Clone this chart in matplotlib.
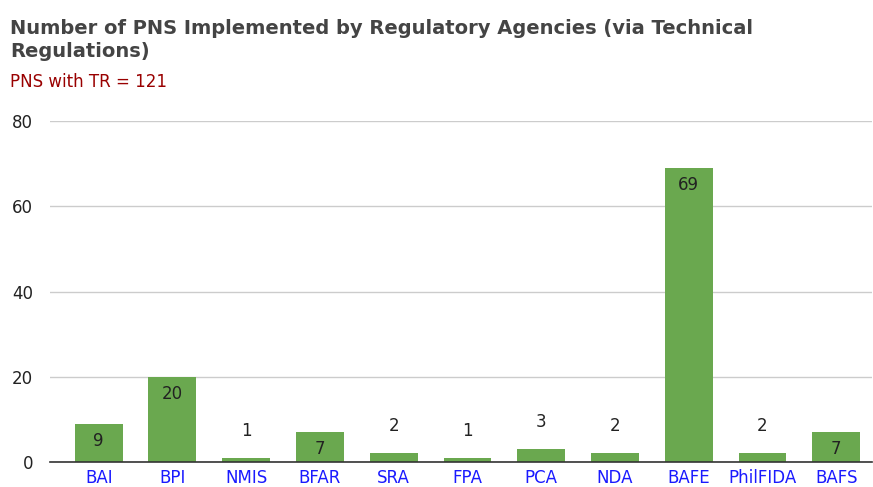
import matplotlib.pyplot as plt

agencies = ["BAI", "BPI", "NMIS", "BFAR", "SRA", "FPA", "PCA", "NDA", "BAFE", "PhilFIDA", "BAFS"]
pns_counts = [9, 20, 1, 7, 2, 1, 3, 2, 69, 2, 7]

fig = plt.figure(figsize=(8.73, 4.87), dpi=100)
ax = fig.add_axes([0.0573, 0.0513, 0.942, 0.700])

pos = list(range(len(agencies)))
bars = ax.bar(pos, pns_counts, width=0.65, color="#6aa84f", zorder=3)

# labels inside tall bars, above short ones
for x, v in zip(pos, pns_counts):
    if v >= 5:
        ax.annotate(str(v), (x, v), xytext=(0, -17), textcoords="offset pixels",
                    ha="center", va="center", fontsize=12, color="#222222", zorder=4)
    else:
        ax.annotate(str(v), (x, v), xytext=(0, 27), textcoords="offset pixels",
                    ha="center", va="center", fontsize=12, color="#222222", zorder=4)

ax.set_xlim(-0.66, 10.49)
ax.set_ylim(0, 80)
ax.set_yticks([0, 20, 40, 60, 80])
ax.set_xticks(pos)
ax.set_xticklabels(agencies, color="#1a1aff", fontsize=12)
ax.tick_params(axis="y", labelsize=12, labelcolor="#222222", length=0, pad=12)
ax.tick_params(axis="x", length=0, pad=5)

ax.grid(axis="y", color="#cccccc", linewidth=1, zorder=0)
for s in ["top", "right", "left"]:
    ax.spines[s].set_visible(False)
ax.spines["bottom"].set_color("#333333")
ax.spines["bottom"].set_linewidth(1.2)
ax.spines["bottom"].set_zorder(5)

fig.text(0.0115, 0.961, "Number of PNS Implemented by Regulatory Agencies (via Technical\nRegulations)",
         fontsize=14, fontweight="bold", color="#444444", va="top", ha="left", linespacing=1.3)
fig.text(0.0115, 0.832, "PNS with TR = 121", fontsize=12, color="#990000", va="center", ha="left")

plt.savefig("out.png", dpi=100)
